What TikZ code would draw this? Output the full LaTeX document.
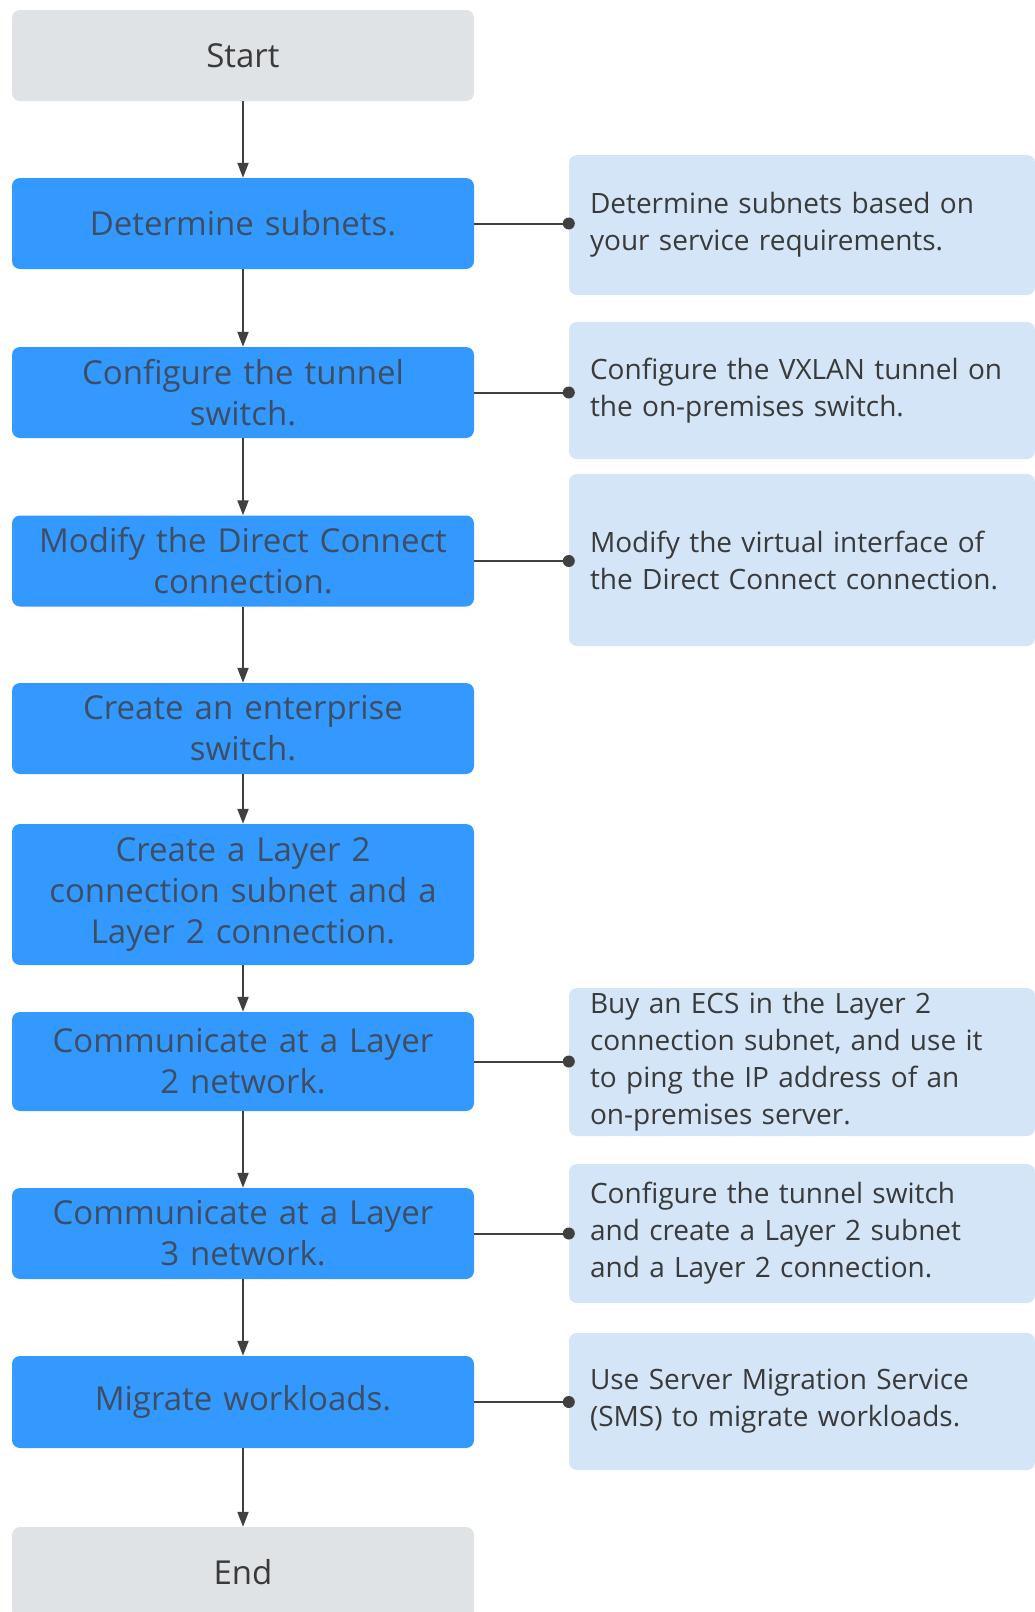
\documentclass[tikz,border=0pt]{standalone}
\usepackage{fontspec}
\setmainfont{Open Sans}
\usetikzlibrary{arrows.meta}
\definecolor{bluebox}{RGB}{51,153,255}
\definecolor{lightbox}{RGB}{211,229,247}
\definecolor{greybox}{RGB}{224,227,230}
\definecolor{bluetext}{RGB}{62,78,98}
\definecolor{darktext}{RGB}{58,58,58}
\definecolor{linecol}{RGB}{64,64,64}
\begin{document}
\begin{tikzpicture}[x=1pt,y=-1pt,
  base/.style={rectangle, rounded corners=8pt, inner sep=0pt, minimum width=462pt, text width=450pt, align=center},
  stepbox/.style={base, fill=bluebox, text=bluetext, font=\fontsize{33}{41}\selectfont},
  termbox/.style={base, fill=greybox, text=darktext, font=\fontsize{33}{41}\selectfont},
  notebox/.style={rectangle, rounded corners=8pt, fill=lightbox, text=darktext, minimum width=466pt, text width=424pt, align=left, inner sep=0pt, font=\fontsize{28}{37}\selectfont},
  flow/.style={draw=linecol, line width=2pt, -{Triangle[length=15pt,width=11pt]}},
  link/.style={draw=linecol, line width=2pt},
  dot/.style={fill=linecol}
]
\useasboundingbox (0,0) rectangle (1035,1612);
\clip (0,0) rectangle (1035,1612);
% left column
\node[termbox, minimum height=91pt] (start) at (243,55.5) {Start};
\node[stepbox, minimum height=91pt] (det) at (243,223.5) {Determine subnets.};
\node[stepbox, minimum height=91pt] (conf) at (243,392.5) {Configure the tunnel\\switch.};
\node[stepbox, minimum height=91pt] (mod) at (243,561) {Modify the Direct Connect\\connection.};
\node[stepbox, minimum height=91pt] (ent) at (243,728.5) {Create an enterprise\\switch.};
\node[stepbox, minimum height=141pt] (l2s) at (243,894.5) {Create a Layer 2\\connection subnet and a\\Layer 2 connection.};
\node[stepbox, minimum height=99pt] (l2c) at (243,1061.5) {Communicate at a Layer\\2 network.};
\node[stepbox, minimum height=91pt] (l3) at (243,1233.5) {Communicate at a Layer\\3 network.};
\node[stepbox, minimum height=92pt] (mig) at (243,1402) {Migrate workloads.};
\node[termbox, minimum height=91pt] (end) at (243,1572.5) {End};
% right column
\node[notebox, minimum height=140pt] (r1) at (802,225) {Determine subnets based on\\your service requirements.};
\node[notebox, minimum height=137pt] (r2) at (802,390.5) {Configure the VXLAN tunnel on\\the on-premises switch.};
\node[notebox, minimum height=172pt] (r3) at (802,560) {Modify the virtual interface of\\the Direct Connect connection.};
\node[notebox, minimum height=148pt] (r4) at (802,1062) {Buy an ECS in the Layer 2\\connection subnet, and use it\\to ping the IP address of an\\on-premises server.};
\node[notebox, minimum height=139pt] (r5) at (802,1233.5) {Configure the tunnel switch\\and create a Layer 2 subnet\\and a Layer 2 connection.};
\node[notebox, minimum height=137pt] (r6) at (802,1401.5) {Use Server Migration Service\\(SMS) to migrate workloads.};
% flow arrows
\draw[flow] (start) -- (det);
\draw[flow] (det) -- (conf);
\draw[flow] (conf) -- (mod);
\draw[flow] (mod) -- (ent);
\draw[flow] (ent) -- (l2s);
\draw[flow] (l2s) -- (l2c);
\draw[flow] (l2c) -- (l3);
\draw[flow] (l3) -- (mig);
\draw[flow] (mig) -- (end);
% links to notes
\foreach \a/\b in {det/r1, conf/r2, mod/r3, l2c/r4, l3/r5, mig/r6}{
  \draw[link] (\a.east) -- (\a.east -| \b.west) coordinate (d\b);
  \fill[dot] (d\b) circle[radius=6pt];
}
\end{tikzpicture}
\end{document}
